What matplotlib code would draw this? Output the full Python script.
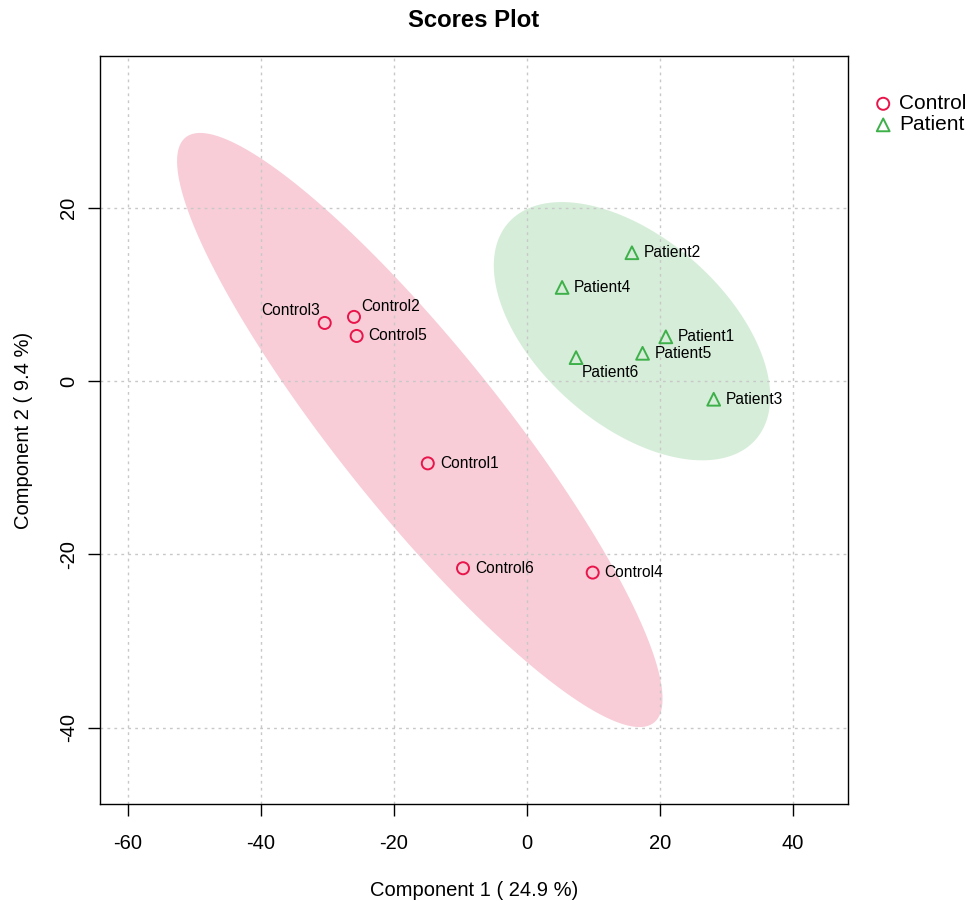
import matplotlib
matplotlib.use('Agg')
import matplotlib.pyplot as plt
import numpy as np

plt.rcParams['font.family'] = ['Liberation Sans', 'DejaVu Sans']
plt.rcParams['axes.unicode_minus'] = False

# scores
control_names = ['Control1', 'Control2', 'Control3', 'Control4', 'Control5', 'Control6']
control_x = [-14.9, -26.0, -30.4, 9.9, -25.6, -9.6]
control_y = [-9.5, 7.4, 6.7, -22.1, 5.2, -21.6]

patient_names = ['Patient1', 'Patient2', 'Patient3', 'Patient4', 'Patient5', 'Patient6']
patient_x = [20.9, 15.8, 28.1, 5.3, 17.4, 7.4]
patient_y = [5.1, 14.8, -2.1, 10.8, 3.2, 2.7]

xticks = [-60, -40, -20, 0, 20, 40]
yticks = [-40, -20, 0, 20]

# label offsets in pixels (dx, dy, ha)
label_off = {
    'Control3': (-5, 12, 'right'), 'Control2': (7, 10, 'left'),
    'Patient6': (6, -15, 'left'),
}

red = '#E8144A'
green = '#3DB049'
pink_fill = '#F8CDD8'
green_fill = '#D6EED9'


def conf_ellipse(x, y, level=0.95, n=200):
    pts = np.column_stack([x, y])
    mu = pts.mean(axis=0)
    cov = np.cov(pts, rowvar=False)
    r = np.sqrt(-2 * np.log(1 - level))  # chi2 quantile, 2 df
    vals, vecs = np.linalg.eigh(cov)
    t = np.linspace(0, 2 * np.pi, n)
    circ = np.vstack([np.cos(t), np.sin(t)])
    e = vecs @ (np.sqrt(vals)[:, None] * circ) * r
    return mu[0] + e[0], mu[1] + e[1]


fig = plt.figure(figsize=(9.67, 9.01), dpi=100)
ax = fig.add_axes([100 / 967, 1 - 804 / 901, 748 / 967, 748 / 901])

ex, ey = conf_ellipse(control_x, control_y)
ax.fill(ex, ey, color=pink_fill, lw=0, zorder=0.5)
ex, ey = conf_ellipse(patient_x, patient_y)
ax.fill(ex, ey, color=green_fill, lw=0, zorder=0.5)

for v in xticks:
    ax.axvline(v, color='#C8C8C8', lw=1, ls=(0, (2, 3)), zorder=1)
for v in yticks:
    ax.axhline(v, color='#C8C8C8', lw=1, ls=(0, (2, 3)), zorder=1)

ax.scatter(control_x, control_y, s=75, marker='o', facecolors='none',
           edgecolors=red, linewidths=1.4, zorder=3, label='Control')
ax.scatter(patient_x, patient_y, s=85, marker='^', facecolors='none',
           edgecolors=green, linewidths=1.4, zorder=3, label='Patient')

for names, xs, ys in [(control_names, control_x, control_y),
                      (patient_names, patient_x, patient_y)]:
    for nm, xv, yv in zip(names, xs, ys):
        dx, dy, ha = label_off.get(nm, (12, 0, 'left'))
        ax.annotate(nm, (xv, yv), xytext=(dx * 0.72, dy * 0.72),
                    textcoords='offset points', ha=ha, va='center',
                    fontsize=11.2, zorder=4)

ax.set_xlim(-64.2, 48.3)
ax.set_ylim(-48.8, 37.5)
ax.set_xticks(xticks)
ax.set_yticks(yticks)
ax.tick_params(direction='out', length=8.5, width=1, labelsize=14.5)
ax.tick_params(axis='x', pad=13)
ax.tick_params(axis='y', pad=7)
plt.setp(ax.get_yticklabels(), rotation=90, va='center')
for sp in ax.spines.values():
    sp.set_linewidth(1)

ax.set_xlabel('Component 1 ( 24.9 %)', fontsize=14.5, labelpad=20)
ax.set_ylabel('Component 2 ( 9.4 %)', fontsize=14.5, labelpad=19)
ax.set_title('Scores Plot', fontsize=17.2, fontweight='bold', pad=21)

ax.legend(loc='upper left', bbox_to_anchor=(1.022, 0.96), frameon=False,
          fontsize=15, handletextpad=0.25, labelspacing=0.1,
          borderaxespad=0, handlelength=1.0)

fig.savefig('out.png', dpi=100)
plt.close(fig)
